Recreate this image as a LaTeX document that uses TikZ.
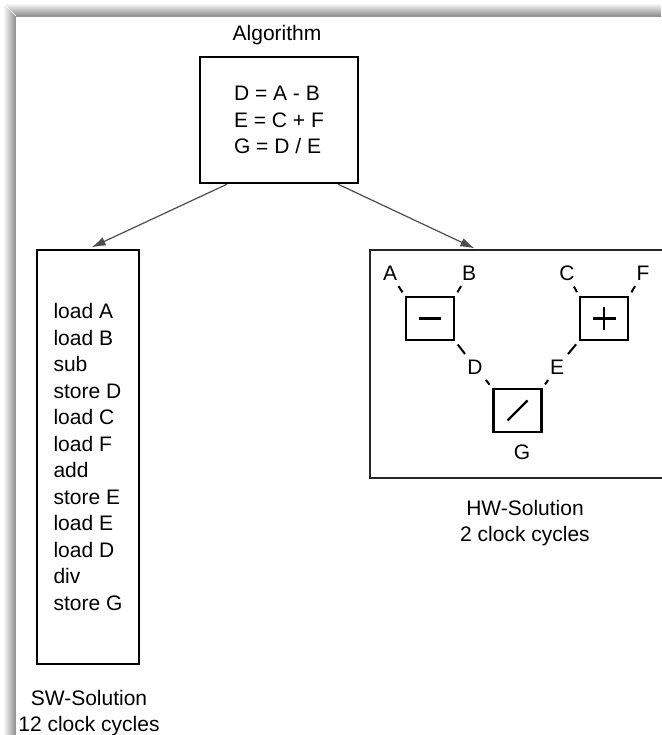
\documentclass[tikz,border=0pt]{standalone}
\usepackage{fontspec}
\setmainfont{Liberation Sans}
\usetikzlibrary{calc,arrows.meta}
\tikzset{
  algobox/.style={draw, line width=2.4pt, align=left, minimum width=158pt, minimum height=126pt},
  codebox/.style={draw, line width=2pt, align=left, minimum width=102pt, minimum height=414pt},
  hwframe/.style={line width=2pt, draw=black!85},
  opbox/.style={draw, line width=2.6pt, minimum width=48pt, minimum height=43pt, inner sep=0pt},
  opsym/.style={line width=2.2pt},
  sig/.style={inner sep=4pt},
  wire/.style={line width=2pt, shorten <=4pt, shorten >=2pt},
  flow/.style={line width=1.2pt, draw=black!70, -{Latex[length=14pt,width=9pt]}, shorten >=4pt},
  caption/.style={align=center}
}
\begin{document}
\begin{tikzpicture}[x=1pt, y=-1pt, font=\fontsize{21}{26.5}\selectfont]
  \useasboundingbox (0,0) rectangle (661,735);
  % shadow of the frame, one strip per pixel
  \foreach \i [evaluate=\i as \p using 3.5*\i] in {1,...,12} {
    \fill[black!\p] (\i+4,\i+3) rectangle (661,\i+4);
    \fill[black!\p] (\i+3,\i+4) rectangle (\i+4,735);
  }
  \fill[black!42] (16,16) rectangle (661,16.5);
  % algorithm
  \node[anchor=base] (algotitle) at (277,41) {Algorithm};
  \node[algobox] (algo) at (279,120) {D = A - B\\E = C + F\\G = D / E};
  % software solution
  \node[codebox] (sw) at (88,457) {load A\\load B\\sub\\store D\\load C\\load F\\add\\store E\\load E\\load D\\div\\store G};
  \node[caption] (swcap) at (89,713) {SW-Solution\\12 clock cycles};
  % hardware solution
  \draw[hwframe] (662,250) -- (370,250) -- (370,478) -- (662,478);
  \coordinate (hwtop) at (478,250);
  \node[caption] (hwcap) at (525,523) {HW-Solution\\2 clock cycles};
  \node[opbox] (sub) at (430,318.5) {};
  \node[opbox] (add) at (604,318.5) {};
  \node[opbox] (div) at (517.5,410.5) {};
  \draw[opsym] ($(sub)+(-11,0)$) -- ($(sub)+(11,0)$);
  \draw[opsym] ($(add)+(-11.5,0)$) -- ($(add)+(11.5,0)$);
  \draw[opsym] ($(add)+(0,-11.5)$) -- ($(add)+(0,11.5)$);
  \draw[opsym] ($(div)+(-10,10)$) -- ($(div)+(10,-10)$);
  % signals
  \node[sig] (a) at (390,273) {A};
  \node[sig] (b) at (469,273) {B};
  \node[sig] (c) at (567,273) {C};
  \node[sig] (f) at (643,273) {F};
  \node[sig] (d) at (475,367) {D};
  \node[sig] (e) at (557,367) {E};
  \node[sig] (g) at (522,452) {G};
  \draw[wire] (sub.north west) -- (a);
  \draw[wire] (sub.north east) -- (b);
  \draw[wire] (add.north west) -- (c);
  \draw[wire] (add.north east) -- (f);
  \draw[wire] (sub.south east) -- (d);
  \draw[wire] (div.north west) -- (d);
  \draw[wire] (add.south west) -- (e);
  \draw[wire] (div.north east) -- (e);
  % arrows
  \draw[flow] ($(algo.south)+(-52,0)$) -- (sw.north);
  \draw[flow] ($(algo.south)+(59,0)$) -- (hwtop);
\end{tikzpicture}
\end{document}
